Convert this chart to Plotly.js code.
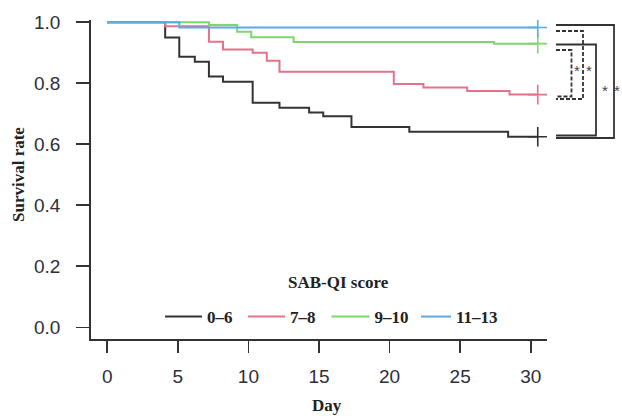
<!DOCTYPE html>
<html>
<head>
<meta charset="utf-8">
<script src="https://cdn.plot.ly/plotly-3.0.1.min.js"></script>
<style>html,body{margin:0;padding:0;background:#fff;}#chart{width:622px;height:416px;}</style>
</head>
<body>
<div id="chart"></div>
<script>
// ---- data (Kaplan-Meier steps) ----
var groupNames = ['0–6', '7–8', '9–10', '11–13'];
var daysG1 = [0, 4.1, 5.1, 6.2, 7.2, 8.2, 10.3, 12.2, 14.3, 15.3, 17.3, 21.4, 28.4, 30.5];
var survG1 = [1, 0.950, 0.887, 0.871, 0.822, 0.805, 0.736, 0.720, 0.704, 0.692, 0.657, 0.641, 0.625, 0.625];
var daysG2 = [0, 4.1, 7.2, 8.2, 10.3, 11.3, 12.2, 20.3, 22.4, 25.5, 28.5, 30.5];
var survG2 = [1, 0.987, 0.936, 0.911, 0.900, 0.874, 0.838, 0.798, 0.786, 0.775, 0.763, 0.763];
var daysG3 = [0, 7.2, 9.2, 10.2, 13.2, 27.4, 30.5];
var survG3 = [1, 0.991, 0.969, 0.951, 0.935, 0.930, 0.930];
var daysG4 = [0, 5.1, 30.5];
var survG4 = [1, 0.983, 0.983];
var censorDay = [30.5, 30.5, 30.5, 30.5];
var xTicks = [0, 5, 10, 15, 20, 25, 30];
var yTicks = [0, 0.2, 0.4, 0.6, 0.8, 1.0];
var legendTitle = 'SAB-QI score';
var xTitle = 'Day';
var yTitle = 'Survival rate';
var sigLabel = '*';

// ---- styling ----
var colors = ['#333333', '#E4738A', '#7ED66F', '#58ABE8'];
var serif = 'Liberation Serif, Times New Roman, serif';
var sans = 'Liberation Sans, Arial, sans-serif';
var W = 622, H = 416, L = 91, R = 75, T = 20, B = 77;
var pw = W - L - R, ph = H - T - B;
function px(x) { return (x - L) / pw; }
function py(y) { return (H - B - y) / ph; }

var legendIds = ['legend', 'legend2', 'legend3', 'legend4'];
var legendX = [160, 243, 326.5, 416];
var legendItemW = [37, 37, 38, 30];

var allDays = [daysG1, daysG2, daysG3, daysG4];
var allSurv = [survG1, survG2, survG3, survG4];
var traces = [];
for (var i = 0; i < 4; i++) {
  traces.push({
    type: 'scatter', mode: 'lines', x: allDays[i], y: allSurv[i],
    name: groupNames[i], legend: legendIds[i],
    line: {shape: 'hv', color: colors[i], width: 2},
    hoverinfo: 'skip'
  });
}
for (var j = 0; j < 4; j++) {
  var s = allSurv[j];
  traces.push({
    type: 'scatter', mode: 'markers', x: [censorDay[j]], y: [s[s.length - 1]],
    showlegend: false, hoverinfo: 'skip',
    marker: {symbol: 'cross-thin-open', size: 14, color: colors[j], line: {color: colors[j], width: 1.6}}
  });
}

function bracket(xl, xr, yt, yb, dashed) {
  var d = 'M' + px(xl) + ',' + py(yt) + ' L' + px(xr) + ',' + py(yt) +
          ' L' + px(xr) + ',' + py(yb) + ' L' + px(xl) + ',' + py(yb);
  return {type: 'path', xref: 'paper', yref: 'paper', path: d,
          line: {color: '#333', width: 1.8, dash: dashed ? '4px,2px' : 'solid'}};
}
var shapes = [
  bracket(556, 614, 25, 138, false),
  bracket(556, 596, 44.5, 135.5, false),
  bracket(556, 583, 31, 99, true),
  bracket(556, 571.5, 50, 96.5, true)
];

function ann(text, x, y, font, extra) {
  var a = {text: text, x: px(x), y: py(y), xref: 'paper', yref: 'paper',
           showarrow: false, xanchor: 'center', yanchor: 'middle', font: font};
  for (var k in extra) a[k] = extra[k];
  return a;
}
var starFont = {family: sans, size: 15, color: '#444'};
var annotations = [
  ann(legendTitle, 338, 282, {family: serif, size: 17, color: '#222', weight: 700}),
  ann(xTitle, 327, 405, {family: serif, size: 17, color: '#222', weight: 700}),
  ann(yTitle, 18, 175, {family: serif, size: 17, color: '#222', weight: 700}, {textangle: -90}),
  ann(sigLabel, 577, 70, starFont),
  ann(sigLabel, 589, 70, starFont),
  ann(sigLabel, 605, 90, starFont),
  ann(sigLabel, 617, 90, starFont)
];

var layout = {
  width: W, height: H,
  margin: {l: L, r: R, t: T, b: B, pad: 0},
  paper_bgcolor: '#fff', plot_bgcolor: '#fff',
  showlegend: true,
  xaxis: {
    range: [-1.155, 31.155], tickvals: xTicks, ticktext: xTicks.map(String),
    showgrid: false, zeroline: false, showline: true, linecolor: '#333', linewidth: 1.8,
    ticks: 'outside', ticklen: 12, tickwidth: 1.8, tickcolor: '#333',
    ticklabelstandoff: 7,
    tickfont: {family: sans, size: 19, color: '#2d2f3a'}
  },
  yaxis: {
    range: [-0.038, 1.0075], tickvals: yTicks, ticktext: yTicks.map(function (v) { return v.toFixed(1); }),
    showgrid: false, zeroline: false, showline: true, linecolor: '#333', linewidth: 1.8,
    ticks: 'outside', ticklen: 13, tickwidth: 1.8, tickcolor: '#333',
    ticklabelstandoff: 12,
    tickfont: {family: sans, size: 19, color: '#2d2f3a'}
  },
  shapes: shapes,
  annotations: annotations
};
for (var m = 0; m < 4; m++) {
  layout[legendIds[m]] = {
    orientation: 'h', x: px(legendX[m]), xanchor: 'left', y: py(317), yanchor: 'middle',
    font: {family: serif, size: 17, color: '#222', weight: 700},
    itemwidth: legendItemW[m],
    bgcolor: 'rgba(0,0,0,0)', borderwidth: 0
  };
}

Plotly.newPlot('chart', traces, layout, {staticPlot: true, displayModeBar: false});
</script>
</body>
</html>
